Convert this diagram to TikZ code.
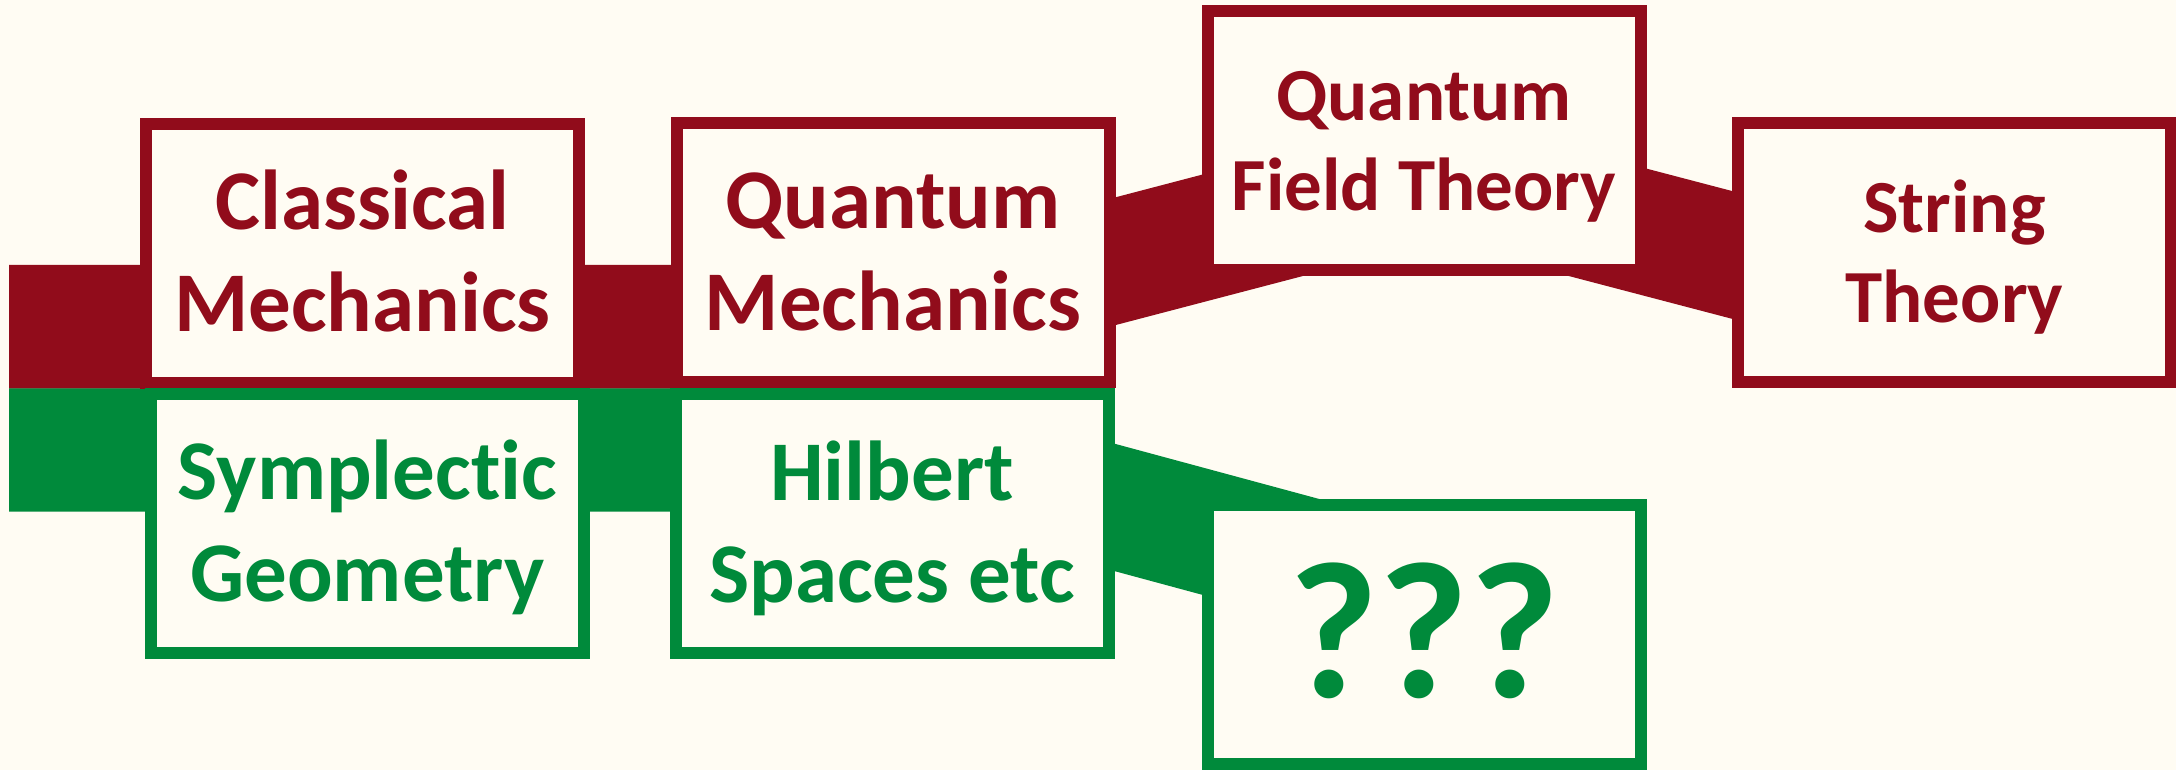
\documentclass[tikz,border=0pt]{standalone}
\usepackage{fontspec}
\setmainfont{Carlito}[Ligatures=NoCommon]
\definecolor{bg}{HTML}{FFFCF3}
\definecolor{dred}{HTML}{910C1B}
\definecolor{dgreen}{HTML}{008A3B}
\begin{document}
\begin{tikzpicture}[x=0.25pt,y=-0.25pt,
  box/.style={draw, line width=3pt, fill=bg, minimum width=108.25pt, minimum height=64.75pt,
    inner sep=0pt, align=center},
  bigtext/.style={font=\fontsize{21.25}{25.5}\selectfont\bfseries, text height=39.2pt, text depth=0pt},
  smalltext/.style={font=\fontsize{18.75}{22.5}\selectfont\bfseries, text height=34.6pt, text depth=0pt},
  qtext/.style={font=\fontsize{48.75}{58}\selectfont\bfseries, text height=31.5pt, text depth=0pt},
  rbox/.style={box, draw=dred, text=dred},
  gbox/.style={box, draw=dgreen, text=dgreen},
  redband/.style={draw=dred, line width=30.9pt, line join=miter},
  greenband/.style={draw=dgreen, line width=30.75pt, line join=miter}]
\useasboundingbox (0,0) rectangle (2176,770);
\fill[bg] (0,0) rectangle (2176,770);
% band coordinates
\coordinate (rs) at (9,326.8);
\coordinate (rb1) at (865,326.8);
\coordinate (rb2) at (1435.9,177.3);
\coordinate (re) at (1954,313.1);
\coordinate (gs) at (9,450);
\coordinate (gb1) at (902,450);
\coordinate (ge) at (1424,591);
\draw[redband] (rs) -- (rb1) -- (rb2) -- (re);
\draw[greenband] (gs) -- (gb1) -- (ge);
% boxes
\node[rbox, bigtext] (cm) at (362.5,253.3) {Classical\\Mechanics};
\node[rbox, bigtext] (qm) at (893,252.5) {Quantum\\Mechanics};
\node[rbox, smalltext] (qft) at (1424,141) {Quantum\\Field Theory};
\node[rbox, smalltext] (st) at (1954.5,253) {String\\Theory};
\node[gbox, bigtext] (sg) at (367.5,523.5) {Symplectic\\Geometry};
\node[gbox, bigtext] (hs) at (892,523.8) {Hilbert\\Spaces etc};
\node[gbox, qtext] (qq) at (1424,634.7) {???};
\end{tikzpicture}
\end{document}
